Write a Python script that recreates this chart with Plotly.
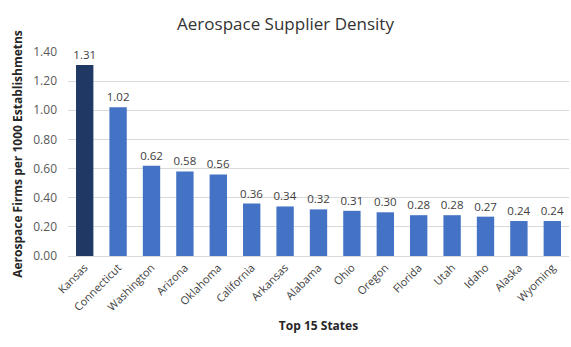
import plotly.graph_objects as go

states = ["Kansas", "Connecticut", "Washington", "Arizona", "Oklahoma", "California",
          "Arkansas", "Alabama", "Ohio", "Oregon", "Florida", "Utah", "Idaho",
          "Alaska", "Wyoming"]
density = [1.31, 1.02, 0.62, 0.58, 0.56, 0.36, 0.34, 0.32, 0.31, 0.30, 0.28, 0.28,
           0.27, 0.24, 0.24]
y_ticks = [0.0, 0.2, 0.4, 0.6, 0.8, 1.0, 1.2, 1.4]

colors = ["#1F3864"] + ["#4472C4"] * (len(states) - 1)

fig = go.Figure(go.Bar(
    x=states, y=density,
    marker=dict(color=colors, line=dict(width=0)),
    text=[f"{v:.2f}" for v in density],
    textposition="outside",
    constraintext="none",
    textfont=dict(size=11.5, color="#404040"),
    cliponaxis=False,
))

fig.update_layout(
    width=571, height=347,
    margin=dict(l=68, r=2, t=52, b=91),
    paper_bgcolor="white", plot_bgcolor="white",
    font=dict(family="Open Sans", color="#404040"),
    title=dict(text="Aerospace Supplier Density", x=0.5, xanchor="center",
               y=0.93, yanchor="middle", font=dict(size=17, color="#333333")),
    bargap=0.48,
    showlegend=False,
)
fig.update_xaxes(
    tickangle=-45, tickfont=dict(size=11, color="#404040"),
    showline=True, linecolor="#D9D9D9", linewidth=1, ticks="",
    title=dict(text="<b>Top 15 States</b>", font=dict(size=12, color="#262626"), standoff=8),
)
fig.update_yaxes(
    range=[0, 1.4], tickvals=y_ticks, ticktext=[f"{v:.2f}" for v in y_ticks],
    tickfont=dict(size=12, color="#595959"),
    showgrid=True, gridcolor="#D9D9D9", gridwidth=1, zeroline=False,
    ticks="", ticklabelstandoff=10,
    title=dict(text="<b>Aerospace Firms per 1000 Establishmetns</b>",
               font=dict(size=12, color="#262626"), standoff=8),
)

fig.write_html("out.html")
